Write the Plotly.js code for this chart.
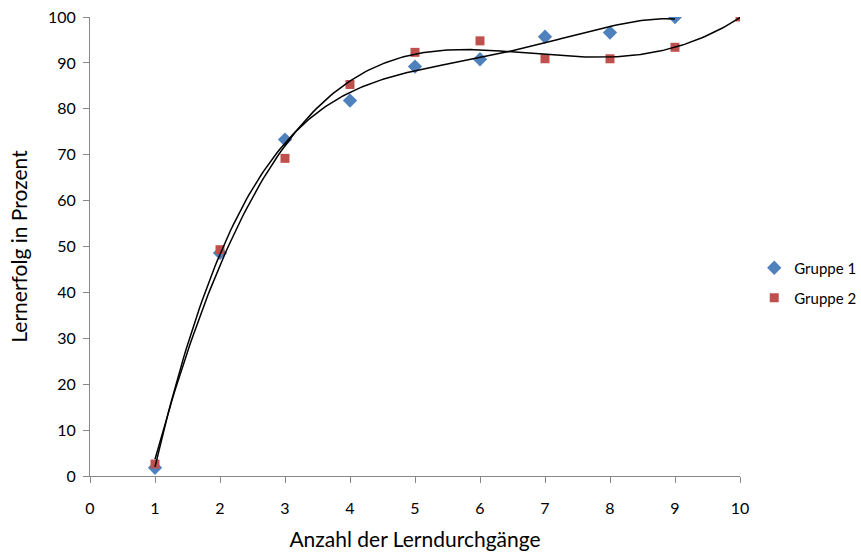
<!DOCTYPE html>
<html>
<head>
<meta charset="utf-8">
<script src="https://cdn.plot.ly/plotly-3.0.1.min.js"></script>
<style>html,body{margin:0;padding:0;background:#fff;}#chart{width:861px;height:554px;}</style>
</head>
<body>
<div id="chart"></div>
<script>
// Data
const seriesNames = ["Gruppe 1", "Gruppe 2"];
const g1X = [1, 2, 3, 4, 5, 6, 7, 8, 9];
const g1Y = [1.8, 48.6, 73.3, 81.8, 89.2, 90.8, 95.7, 96.6, 100];
const g2X = [1, 2, 3, 4, 5, 6, 7, 8, 9, 10];
const g2Y = [2.6, 49.3, 69.2, 85.3, 92.3, 94.8, 90.9, 90.9, 93.4, 100];
const xTicks = [0, 1, 2, 3, 4, 5, 6, 7, 8, 9, 10];
const yTicks = [0, 10, 20, 30, 40, 50, 60, 70, 80, 90, 100];
const trendOrder = [4, 4];

// Least-squares polynomial trendline (like a spreadsheet polynomial trendline)
function polyFit(xs, ys, order) {
  const n = order + 1;
  const A = Array.from({length: n}, () => new Array(n + 1).fill(0));
  for (let k = 0; k < xs.length; k++) {
    const p = [];
    for (let i = 0; i < n; i++) p.push(Math.pow(xs[k], i));
    for (let i = 0; i < n; i++) {
      for (let j = 0; j < n; j++) A[i][j] += p[i] * p[j];
      A[i][n] += p[i] * ys[k];
    }
  }
  for (let c = 0; c < n; c++) {
    let piv = c;
    for (let r = c + 1; r < n; r++) if (Math.abs(A[r][c]) > Math.abs(A[piv][c])) piv = r;
    const tmp = A[c]; A[c] = A[piv]; A[piv] = tmp;
    for (let r = 0; r < n; r++) {
      if (r === c) continue;
      const f = A[r][c] / A[c][c];
      for (let j = c; j <= n; j++) A[r][j] -= f * A[c][j];
    }
  }
  return A.map((row, i) => row[n] / row[i]);
}
function trend(xs, ys, order) {
  const coef = polyFit(xs, ys, order);
  const x0 = Math.min(...xs), x1 = Math.max(...xs);
  const tx = [], ty = [];
  for (let i = 0; i <= 200; i++) {
    const x = x0 + (x1 - x0) * i / 200;
    let y = 0;
    for (let j = 0; j < coef.length; j++) y += coef[j] * Math.pow(x, j);
    tx.push(x); ty.push(y);
  }
  return {x: tx, y: ty};
}

const t1 = trend(g1X, g1Y, trendOrder[0]);
const t2 = trend(g2X, g2Y, trendOrder[1]);

const data = [
  {x: g1X, y: g1Y, name: seriesNames[0], mode: 'markers', type: 'scatter', legend: 'legend',
   marker: {symbol: 'diamond', color: '#4F81BD', size: 11}},
  {x: g2X, y: g2Y, name: seriesNames[1], mode: 'markers', type: 'scatter', legend: 'legend2',
   marker: {symbol: 'square', color: '#C0504D', size: 9}},
  {x: t1.x, y: t1.y, mode: 'lines', line: {color: '#000', width: 1.5}, showlegend: false, hoverinfo: 'skip'},
  {x: t2.x, y: t2.y, mode: 'lines', line: {color: '#000', width: 1.5}, showlegend: false, hoverinfo: 'skip'}
];

const legendBase = {xref: 'container', yref: 'container', x: 0.876, xanchor: 'left', yanchor: 'middle',
  font: {size: 15}, bgcolor: 'rgba(0,0,0,0)', itemwidth: 30};

const layout = {
  width: 861, height: 554,
  margin: {l: 90, r: 121, t: 17, b: 78, autoexpand: false},
  paper_bgcolor: '#fff', plot_bgcolor: '#fff',
  font: {family: 'Lato, "Open Sans", sans-serif', size: 16, color: '#000'},
  showlegend: true,
  legend: Object.assign({}, legendBase, {y: 1 - 268 / 554}),
  legend2: Object.assign({}, legendBase, {y: 1 - 298 / 554}),
  xaxis: {
    range: [0, 10], tickvals: xTicks, ticktext: xTicks.map(String),
    showgrid: false, zeroline: false, showline: true, linecolor: '#888', linewidth: 1,
    ticks: 'outside', ticklen: 6, tickcolor: '#888', ticklabelstandoff: 12,
    title: {text: 'Anzahl der Lerndurchgänge', font: {size: 21}, standoff: 16}
  },
  yaxis: {
    range: [0, 100], tickvals: yTicks, ticktext: yTicks.map(String),
    showgrid: false, zeroline: false, showline: true, linecolor: '#888', linewidth: 1,
    ticks: 'outside', ticklen: 6, tickcolor: '#888', ticklabelstandoff: 4,
    title: {text: 'Lernerfolg in Prozent', font: {size: 21}, standoff: 14}
  }
};

Plotly.newPlot('chart', data, layout, {displayModeBar: false, staticPlot: true});
</script>
</body>
</html>
